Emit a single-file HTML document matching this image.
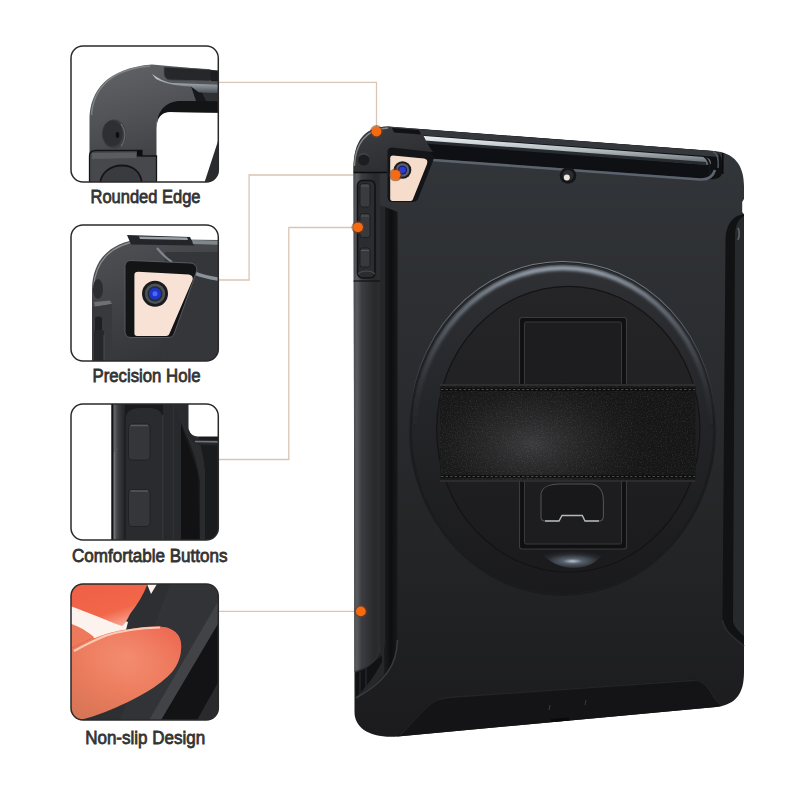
<!DOCTYPE html>
<html><head><meta charset="utf-8">
<style>
html,body{margin:0;padding:0;background:#fff;}
body{width:800px;height:800px;overflow:hidden;position:relative;}
svg{position:absolute;left:0;top:0;}
.lbl{font-family:"Liberation Sans",sans-serif;fill:#333;stroke:#333;stroke-width:0.8px;font-size:18.5px;}
</style></head><body>
<svg width="800" height="800" viewBox="0 0 800 800">
<defs>
  <clipPath id="b1"><rect x="71" y="46" width="147.3" height="136" rx="12"/></clipPath>
  <clipPath id="b2"><rect x="71" y="225" width="147.3" height="136" rx="12"/></clipPath>
  <clipPath id="b3"><rect x="71" y="404" width="147.3" height="136" rx="12"/></clipPath>
  <clipPath id="b4"><rect x="71" y="584" width="147.3" height="136" rx="12"/></clipPath>
  <linearGradient id="bump1" x1="0" y1="0" x2="0.3" y2="1">
    <stop offset="0" stop-color="#626468"/><stop offset="0.45" stop-color="#505256"/><stop offset="1" stop-color="#38393c"/>
  </linearGradient>
  <linearGradient id="silver" x1="0" y1="0" x2="0" y2="1">
    <stop offset="0" stop-color="#d0d6da"/><stop offset="0.5" stop-color="#9aa3a8"/><stop offset="1" stop-color="#4b5257"/>
  </linearGradient>
  <radialGradient id="thumb" cx="0.55" cy="0.3" r="0.75">
    <stop offset="0" stop-color="#f48e72"/><stop offset="0.5" stop-color="#ee7e60"/><stop offset="1" stop-color="#de6e50"/>
  </radialGradient>
  <linearGradient id="finger" x1="0" y1="0" x2="0.6" y2="1">
    <stop offset="0" stop-color="#ef5f45"/><stop offset="0.75" stop-color="#f2664a"/><stop offset="1" stop-color="#f6a08a"/>
  </linearGradient>
  <linearGradient id="panelg" x1="0" y1="0" x2="0" y2="1">
    <stop offset="0" stop-color="#33363a"/><stop offset="0.4" stop-color="#2a2c2f"/><stop offset="0.75" stop-color="#222325"/><stop offset="1" stop-color="#1b1b1d"/>
  </linearGradient>
  <linearGradient id="lstrip" x1="0" y1="0" x2="1" y2="0">
    <stop offset="0" stop-color="#4a4b4e"/><stop offset="0.12" stop-color="#5a5b5e"/><stop offset="0.3" stop-color="#3c3d40"/><stop offset="0.8" stop-color="#28292b"/><stop offset="1" stop-color="#2c2d2f"/>
  </linearGradient>
  <linearGradient id="silver2" x1="0" y1="0" x2="0" y2="1">
    <stop offset="0" stop-color="#eef3f5"/><stop offset="0.5" stop-color="#b4bcc0"/><stop offset="1" stop-color="#586065"/>
  </linearGradient>
  <linearGradient id="ringg" x1="0" y1="0" x2="0" y2="1">
    <stop offset="0" stop-color="#2f3135"/><stop offset="0.45" stop-color="#242528"/><stop offset="1" stop-color="#1a1a1c"/>
  </linearGradient>
  <linearGradient id="ringhl" x1="0" y1="0" x2="0" y2="1">
    <stop offset="0" stop-color="#9aa4b0"/><stop offset="0.12" stop-color="#6a727c"/><stop offset="0.3" stop-color="#3c3f44"/><stop offset="0.5" stop-color="#2a2b2e" stop-opacity="0"/><stop offset="1" stop-color="#222325" stop-opacity="0"/>
  </linearGradient>
  <linearGradient id="discg" x1="0" y1="0" x2="0" y2="1">
    <stop offset="0" stop-color="#252527"/><stop offset="1" stop-color="#1b1b1d"/>
  </linearGradient>
  <radialGradient id="hdisc" cx="0.5" cy="0.6" r="0.6">
    <stop offset="0" stop-color="#b8c4d4"/><stop offset="0.25" stop-color="#56606c"/><stop offset="0.7" stop-color="#26282c"/><stop offset="1" stop-color="#1a1b1e"/>
  </radialGradient>
  <radialGradient id="strapg" cx="0.36" cy="0.62" r="0.5" gradientTransform="translate(0.36,0.62) scale(1,1.6) translate(-0.36,-0.62)">
    <stop offset="0" stop-color="#3c3c3e" stop-opacity="0.95"/><stop offset="0.5" stop-color="#2a2a2b" stop-opacity="0.55"/><stop offset="1" stop-color="#161617" stop-opacity="0"/>
  </radialGradient>
  <linearGradient id="chang" x1="0" y1="0" x2="1" y2="0">
    <stop offset="0" stop-color="#1c1d1f"/><stop offset="0.5" stop-color="#0d0e10"/><stop offset="1" stop-color="#18191b"/>
  </linearGradient>
  <linearGradient id="cornerg" x1="0" y1="0" x2="0.6" y2="1">
    <stop offset="0" stop-color="#3c3e42"/><stop offset="1" stop-color="#2a2c2f"/>
  </linearGradient>
  <filter id="blur2" x="-10%" y="-10%" width="120%" height="120%"><feGaussianBlur stdDeviation="1.5"/></filter>
  <linearGradient id="b3strip" x1="0" y1="0" x2="1" y2="0">
    <stop offset="0" stop-color="#6a6c70"/><stop offset="0.4" stop-color="#3c3d40"/><stop offset="1" stop-color="#222326"/>
  </linearGradient>
  <linearGradient id="ringhl2" x1="0" y1="0" x2="0" y2="1">
    <stop offset="0" stop-color="#60656c"/><stop offset="0.4" stop-color="#3e4045"/><stop offset="0.8" stop-color="#2a2b2e"/><stop offset="1" stop-color="#202123"/>
  </linearGradient>
  <linearGradient id="ringhl3" x1="0" y1="0" x2="0" y2="1">
    <stop offset="0" stop-color="#7a8088"/><stop offset="0.25" stop-color="#4a4e54"/><stop offset="0.6" stop-color="#2a2b2e" stop-opacity="0"/><stop offset="1" stop-color="#2a2b2e" stop-opacity="0"/>
  </linearGradient>
  <filter id="leather" x="0" y="0" width="100%" height="100%">
    <feTurbulence type="fractalNoise" baseFrequency="0.8" numOctaves="2" seed="7" result="n"/>
    <feColorMatrix in="n" type="matrix" values="0 0 0 0 0.55  0 0 0 0 0.55  0 0 0 0 0.56  0 0 0 1.6 -0.75" result="m"/>
    <feComposite in="m" in2="SourceGraphic" operator="in"/>
  </filter>
  <linearGradient id="bump2" x1="0" y1="0" x2="0.4" y2="1">
    <stop offset="0" stop-color="#505256"/><stop offset="0.5" stop-color="#404245"/><stop offset="1" stop-color="#333437"/>
  </linearGradient>
  <linearGradient id="thumb2" x1="0.8" y1="0" x2="0.1" y2="1">
    <stop offset="0" stop-color="#f0584a" stop-opacity="0.45"/><stop offset="0.45" stop-color="#ee8060" stop-opacity="0"/><stop offset="1" stop-color="#c8805e" stop-opacity="0.5"/>
  </linearGradient>
</defs>
<rect width="800" height="800" fill="#fff"/>

<!-- callout lines -->
<g stroke="#d9c5b5" stroke-width="1.3" fill="none">
  <polyline points="219,82.4 376.5,82.4 376.5,131"/>
  <polyline points="219,280 249.1,280 249.1,175 395,175"/>
  <polyline points="219,459.5 288.8,459.5 288.8,227.5 358,227.5"/>
  <polyline points="219,611.3 361,611.3"/>
</g>

<!-- TABLET -->
<g id="tablet">
  <!-- silhouette base -->
  <path id="sil" d="M353.5,168 C353.5,142 364,126.5 388,126.5 L714,151 C734,152.5 744,165 744,186 L744,672 C744,694 736,704.5 716,707 L398,736.5 C370,738.5 354.5,728 354.5,712 Z" fill="url(#panelg)"/>
  <!-- left bumper strip -->
  <path d="M353.6,172 L380,172 L380,645 C380,660 368,668 354.5,672 Z" fill="url(#lstrip)"/>
  
  <!-- black channel -->
  <path d="M380,205 L397.5,212 L397.5,640 C397.5,660 385,680 356,698 L356,690 C372,680 380,665 380,650 Z" fill="#26272a"/>
  <path d="M385,207 L397.5,212 L397.5,640 C397.5,655 392,668 384,676 L384,650 C385,645 385,640 385,635 Z" fill="url(#chang)"/>
  <!-- gap at bottom left -->
  <path d="M355.5,672 C366,668 378,660 382,655 L382,662 C375,675 366,688 356,697 Z" fill="#111214"/>
  <path d="M360,672 L360,694 M366,668 L366,690" stroke="#2a2b2e" stroke-width="1.2"/>
  <!-- panel flare edge highlight -->
  <path d="M397.5,640 C397,665 385,682 356,698" stroke="#3a3b3e" stroke-width="1.5" fill="none"/>
  <path d="M380,646 C379,660 368,668 355,672" stroke="#2f3033" stroke-width="1.5" fill="none"/>
  <!-- right channel + strip -->
  <path d="M737,216 C730,220 725.5,228 725.5,240 L722.5,620 C724,632 736,640 744,645 L744,214 Z" fill="#111214"/>
  <path d="M735,236 C735,226 738,219 744,216 L744,636 C740,633 735,628 733,622 Z" fill="#28292c"/>
  <path d="M738,228 C739.5,231 739.5,236 738,240" stroke="#5a5f66" stroke-width="1.8" fill="none"/>
  <path d="M744.5,198 L742.2,202 L742.2,212 L744.5,215 Z" fill="#fff"/>
  <path d="M722.5,620 C725,634 738,640 744,646" stroke="#2b2c2f" stroke-width="1.5" fill="none"/>
  <!-- bottom lip -->
  <path d="M397,736.5 C410,726 420,708 435,700.5 C442,697.5 448,697.5 455,697 L690,680 C700,679 705,683 710,690 C713,695 716,701 722,706 L716,707 Z" fill="#141416"/>
  <path d="M400,735 C412,724 422,708 436,700.5 C442,698 448,697.5 455,697 L692,680.5 C702,680 706,684 710,691 C713,696 716,701 721,705" stroke="#232426" stroke-width="1.3" fill="none"/>
  <path d="M551,720.5 L569,719" stroke="#0a0a0a" stroke-width="3"/>
  <path d="M549,710 L550,705 M585,705 L586,700" stroke="#3a3b3e" stroke-width="1"/>
  <!-- top band: black gap -->
  <path d="M418,129 L712,151 C719,151.5 722,156 722,163 L722,172 C722,178 716,180 708,179 L433,159 L425,140 Z" fill="#0f1013"/>
  <!-- dark gray band above silver -->
  <path d="M418,129 L712,151 C717,151.5 719,154 719,157 L418,135 Z" fill="#34373b"/>
  <!-- silver strip -->
  <path d="M418,135.5 L704,157 C709,157.5 711,160 711,164 L709,165 L418,141 Z" fill="url(#silver2)"/>
  <path d="M418,141.5 L706,163.5" stroke="#262b2f" stroke-width="3"/>
  <path d="M704,156.5 C710,160 711,170 709,177" stroke="#14161a" stroke-width="2" fill="none"/>
  <!-- panel top edge highlight -->
  <path d="M433,160 L700,179.5 C708,180 713,176.5 715,170" stroke="#5a636e" stroke-width="2.6" fill="none"/>
  <!-- top right corner gap -->
  <path d="M722.8,153 L722.8,174" stroke="#0a0a0a" stroke-width="1.5"/>
  <path d="M713,151.5 C717,153 719,158 718,168" stroke="#50555b" stroke-width="1.5" fill="none"/>
  <!-- top left bumper corner -->
  <path d="M353.5,172 C353.5,142 364,126.5 388,126.5 L420,129 C424,136 428,146 433,152 L392,147.5 C389,147.5 387.5,149 387.5,152 L387.5,172 Z" fill="url(#cornerg)"/>
  <path d="M354.5,166 C355,145 365,129 388,128" stroke="#a0a5aa" stroke-width="1.3" fill="none" opacity="0.75"/>
  <path d="M392,128 L419,130 L421,134.5 L394,132.5 Z" fill="#111215"/>
  <path d="M353.6,172.5 L387,172.5" stroke="#0d0d0f" stroke-width="1.5"/>
  <circle cx="363.8" cy="160" r="5.6" fill="#1c1d20"/>
  <path d="M359,156 C361,153 366,153 368.5,156" stroke="#4a4d52" stroke-width="1" fill="none"/>
  <!-- camera cutout -->
  <path d="M392,147.5 L428,151.5 C433,152 435,156 433,161 L418,199 C417,201 415,202 412,202 L392,202 C389,202 387.5,200 387.5,197 L387.5,152 C387.5,149 389,147.5 392,147.5 Z" fill="#141518"/>
  <path d="M393,155.5 L424,158.5 C427,159 428,161 427,164 L413,199 C412.5,200.5 411.5,201 410,201 L392.5,201 C391,201 390.2,200 390.2,198.5 L390.2,158 C390.2,156.5 391.2,155.5 393,155.5 Z" fill="#f5dccb"/>
  <circle cx="402.5" cy="170" r="8.8" fill="#1b1c20"/>
  <circle cx="402.5" cy="170" r="6.8" fill="#5a5e6e"/>
  <circle cx="402.5" cy="170" r="4.6" fill="#1a2060"/>
  <circle cx="402.5" cy="170" r="3.3" fill="#2a3ad8"/>
  <!-- mic hole -->
  <circle cx="568" cy="175.5" r="8.3" fill="#141518"/>
  <circle cx="568" cy="175.5" r="5.5" fill="#2a2c30"/>
  <circle cx="566.8" cy="177.5" r="3" fill="#ece6de"/>
  <!-- button housing -->
  <rect x="357.5" y="180.5" width="17.5" height="97.5" rx="5" fill="#2b2c2f" stroke="#111214" stroke-width="1.6"/>
  <rect x="360" y="183.5" width="10" height="23.5" rx="2.5" fill="#3a3b3f" stroke="#1a1b1d" stroke-width="0.8"/>
  <rect x="360" y="213.5" width="10" height="24" rx="2.5" fill="#38393d" stroke="#1a1b1d" stroke-width="0.8"/>
  <rect x="360" y="248" width="10" height="19" rx="2.5" fill="#38393d" stroke="#1a1b1d" stroke-width="0.8"/>
  <path d="M361,186 L369,186 M361,216 L369,216 M361,250.5 L369,250.5" stroke="#56585d" stroke-width="1.2"/>
  <path d="M358,274 C362,270 371,270 375,274" stroke="#4a4b4f" stroke-width="1.2" fill="none"/>
  <path d="M353.6,281 L380,281" stroke="#111214" stroke-width="1.2"/>
  <!-- ring -->
  <ellipse cx="562.5" cy="428.5" rx="153.75" ry="167.5" fill="#1b1c1e"/>
  <ellipse cx="562.5" cy="428.5" rx="153.2" ry="167" fill="none" stroke="url(#ringhl3)" stroke-width="1.2"/>
  <ellipse cx="562.5" cy="428.5" rx="151.8" ry="165.6" fill="url(#ringg)"/>
  <ellipse cx="562.5" cy="429" rx="151.3" ry="165" fill="none" stroke="#1c1d20" stroke-width="1.2"/>
  <ellipse cx="563" cy="429.5" rx="148.3" ry="161.6" fill="none" stroke="url(#ringhl)" stroke-width="4.5" filter="url(#blur2)"/>
  <ellipse cx="568.3" cy="429.25" rx="132.2" ry="143.5" fill="#131315"/>
  <ellipse cx="568.3" cy="429.25" rx="131" ry="142.3" fill="url(#discg)"/>
  <!-- kickstand -->
  <rect x="519.5" y="317.5" width="107" height="231.5" rx="2.5" fill="#101012" stroke="#3a3b3e" stroke-width="1.1"/>
  <rect x="524.5" y="322" width="97" height="222" rx="1.5" fill="#1d1d1f" stroke="#38393c" stroke-width="1"/>
  <path d="M541,506 L541,495 C541,488 548,484 560,484 L590,484 C598,484 603.4,490 603.4,500 L603.4,516 C603.4,519 602,521 599,521 L585,521 L582.3,515.5 L562,515.5 L559,521 L545,521 C542.5,521 541,519.5 541,517 Z" fill="#18181a" stroke="#4e5156" stroke-width="1.1"/>
  <path d="M545,521 L559,521 L562,515.5 L582.3,515.5 L585,521 L599,521" fill="none" stroke="#b4b9c0" stroke-width="1.3"/>
  <!-- half disc below kickstand -->
  <path d="M540,551 C548,562 560,568 574,568 C588,568 598,562 605,551 Z" fill="url(#hdisc)"/>
  <!-- strap -->
  <path d="M440,384.5 C520,383.5 620,383.5 695.5,384.5 L695.5,481 C620,480 520,480 440,481 Z" fill="#161617"/>
  <path d="M440,384.5 C520,383.5 620,383.5 695.5,384.5 L695.5,481 C620,480 520,480 440,481 Z" fill="url(#strapg)"/>
  <path d="M440,384.5 C520,383.5 620,383.5 695.5,384.5 L695.5,481 C620,480 520,480 440,481 Z" fill="#888" filter="url(#leather)" opacity="0.2"/>
  <path d="M441,389.5 L695,389.5" stroke="#0c0c0d" stroke-width="2.6"/>
  <path d="M441,389.5 L695,389.5" stroke="#4a4a4c" stroke-width="1.2" stroke-dasharray="2.5,2"/>
  <path d="M441,476.5 L695,476.5" stroke="#0c0c0d" stroke-width="2.6"/>
  <path d="M441,476.5 L695,476.5" stroke="#4a4a4c" stroke-width="1.2" stroke-dasharray="2.5,2"/>
  <path d="M440,385 L695.5,385" stroke="#363638" stroke-width="1.3"/>
  <path d="M440,481 L695.5,481" stroke="#323234" stroke-width="1.3"/>
</g>

<!-- dots -->
<g fill="#7a3a18" opacity="0.55">
  <circle cx="376.5" cy="131.5" r="6.5"/>
  <circle cx="395.6" cy="174.8" r="6.5"/>
  <circle cx="358" cy="227.3" r="6.5"/>
  <circle cx="360.8" cy="611.4" r="6.5"/>
</g>
<g fill="#f66a12">
  <circle cx="376.5" cy="131.5" r="4.9"/>
  <circle cx="395.6" cy="174.8" r="4.9"/>
  <circle cx="358" cy="227.3" r="4.9"/>
  <circle cx="360.8" cy="611.4" r="4.9"/>
</g>

<!-- BOX 1: Rounded Edge -->
<g clip-path="url(#b1)">
  <rect x="71" y="46" width="148" height="136" fill="#fff"/>
  <!-- bumper -->
  <path d="M89.5,190 L89.5,120 C89.5,90 108,68 152,64.5 L225,71 L225,113 L168,112 C161,112 156.5,117 156.5,125 L156.5,190 Z" fill="url(#bump1)"/>
  <path d="M91.5,115 C93,88 112,69 150,66" stroke="#9a9ca0" stroke-width="1.6" fill="none" opacity="0.6"/>
  <!-- black inner rim -->
  <path d="M156.5,128 C156.5,115 162,103 178,101 L225,101 L225,112.5 L170,112 C162,112 157,117 156.5,128 Z" fill="#131416"/>
  <!-- dark gray band -->
  <path d="M198,92 L225,93 L225,101.5 L204,101 Z" fill="#2e3034"/>
  <path d="M191,86 L199,86.5 L206,101 L196,101 Z" fill="#17181b"/>
  <!-- silver band -->
  <path d="M152,74 C158,78 164,82 172,83 L225,85 L225,93 L199,92.5 L191,86.5 C178,86 166,84 156,79 Z" fill="url(#silver)"/>
  <!-- black top button -->
  <path d="M164,67 L208,69.5 C211,69.7 212,71 212,73 L212,78 C212,80 211,81 208,81 L170,80 C167,80 165,78 164,75 Z" fill="#26272a" stroke="#4a4c50" stroke-width="0.8"/>
  <path d="M210,70 L225,71.5 L225,82 L211,81 Z" fill="#1c1d20"/>
  <!-- hole -->
  <ellipse cx="114" cy="134" rx="12" ry="14.5" fill="#3c3d40"/>
  <ellipse cx="112.5" cy="133.5" rx="10" ry="13" fill="#2e2f32"/>
  <path d="M121,124 C126,130 126,140 121,146" stroke="#66686c" stroke-width="1.2" fill="none"/>
  <ellipse cx="117.5" cy="135" rx="1.8" ry="3" fill="#0e0e10"/>
  <!-- lower part -->
  <path d="M89.5,190 L89.5,156 C89.5,152.5 92,150.5 96,150.5 L142,150.5 L142,156 L156.5,156 L156.5,190 Z" fill="#47484b" stroke="#141416" stroke-width="1.3"/>
  <path d="M92,153 L136,152.5 L136,158 L92,159 Z" fill="#5a5c60"/>
  <rect x="137" y="150.5" width="5" height="6" fill="#0d0d0f"/>
  <path d="M100,186 C100,173 110,165.5 122,165.5 C134,165.5 142,173 142,186 Z" fill="#3a3b3e" stroke="#151517" stroke-width="1.8"/>
  <!-- diagonal strip right -->
  <path d="M202,190 L219,138 L225,138 L225,190 Z" fill="#2a2b2e"/>
</g>

<!-- BOX 2: Precision Hole -->
<g clip-path="url(#b2)">
  <rect x="71" y="225" width="148" height="136" fill="#fff"/>
  <path d="M92,370 L92,290 C92,262 108,242 142,239 L225,240 L225,370 Z" fill="url(#bump2)"/>
  <path d="M93.5,288 C95,262 110,244 142,240.5" stroke="#b4b8bc" stroke-width="1.3" fill="none" opacity="0.6"/>
  <!-- top bar -->
  <path d="M127,235 L190,237 L194,245.5 L131,244.5 Z" fill="#242528"/>
  <path d="M139,236.5 L187,237.5 L188,240 L140,239 Z" fill="#9aa1a6"/>
  <path d="M192,240 L225,241 L225,245 L193,244 Z" fill="#80878c"/>
  <!-- main panel right -->
  <path d="M165,252 L225,252 L225,370 L160,370 Z" fill="#343639"/>
  <path d="M157,248 C162,254 167,259 172,262" stroke="#7c8590" stroke-width="2.2" fill="none"/>
  <path d="M195,273 C200,276 210,278 225,280" stroke="#8a929a" stroke-width="3.5" fill="none"/>
  <!-- cutout frame -->
  <path d="M131,260.5 L190,263 C196,263.5 198,268 196,273 L174,334 C173,336.5 171,337.5 168,337.5 L131,337.5 C127.5,337.5 125,335 125,331.5 L125,266.5 C125,263 127.5,260.5 131,260.5 Z" fill="#131416" stroke="#5a5d62" stroke-width="0.9"/>
  <path d="M138,271.8 L188.5,274.5 C192,275 193.5,277.5 192.5,280 L169.5,333.5 C169,335 168,336 166,336 L137,336 C135.5,336 134.4,335 134.4,333.5 L134.4,275 C134.4,273 135.8,271.8 138,271.8 Z" fill="#f7e2d5"/>
  <!-- lens -->
  <circle cx="155" cy="293.8" r="13" fill="#1a1b1f"/>
  <circle cx="155" cy="293.8" r="10.2" fill="#4d5352"/>
  <circle cx="155" cy="293.8" r="7.6" fill="#262a3a"/>
  <circle cx="155" cy="293.8" r="6" fill="#1e36c8"/>
  <circle cx="155" cy="293.8" r="2.5" fill="#4a6aff"/>
  <!-- left bottom details -->
  <ellipse cx="98" cy="289" rx="5" ry="10" fill="#2c2d30"/>
  <path d="M94,302 L110,300.5 L112,304 L95,307 Z" fill="#6e7074"/>
  <path d="M92,307 L112,304 L112,370 L92,370 Z" fill="#38393d"/>
  <path d="M95,318 C97,316 100,316 102,318 L102,335 L95,335 Z" fill="#1e1f22"/>
  <rect x="94" y="330" width="10" height="34" rx="2" fill="#26272a"/>
  <path d="M104,335 L104,364" stroke="#4a4c50" stroke-width="1"/>
</g>

<!-- BOX 3: Comfortable Buttons -->
<g clip-path="url(#b3)">
  <rect x="71" y="404" width="148" height="136" fill="#fff"/>
  <rect x="111.5" y="400" width="110" height="150" fill="#1a1b1d"/>
  <!-- left bumper side strip -->
  <rect x="111.5" y="400" width="2" height="150" fill="#141416"/>
  <rect x="113.5" y="400" width="11.5" height="150" fill="url(#b3strip)"/>
  <path d="M114.5,452 L114.5,545" stroke="#707378" stroke-width="1.2"/>
  <path d="M114.5,452 L117,448.5" stroke="#5a5c60" stroke-width="1"/>
  <!-- right strip -->
  <rect x="163" y="400" width="18" height="150" fill="#28292c"/>
  <path d="M173.5,400 L173.5,545" stroke="#303134" stroke-width="1.5"/>
  <!-- curved gray band -->
  <path d="M172,400 L188,400 C195,425 203,448 205,470 L205,545 L200,545 L200,482 C198,464 192,447 185,432 C180,420 176,410 172,400 Z" fill="#2a2b2e"/>
  <path d="M181,425 C186,440 194,458 198,476 L199.5,545 L181,545 Z" fill="#121214"/>
  <!-- top-right white -->
  <path d="M188.5,398 L225,398 L225,436.5 L198,436.5 C192.5,436.5 188.5,432.5 188.5,427 Z" fill="#fff"/>
  <path d="M189,430 C190,436 195,439 201,439.5 L225,440 L225,445.5 L200,445 C194,444 190,440 188,434 Z" fill="#24262a"/>
  <path d="M195,441.5 L225,442" stroke="#6e747c" stroke-width="1.6"/>
  <!-- button housing -->
  <path d="M125,545 L125,420 C125,411 132,407.5 140,407.5 L149,407.5 C157,407.5 163.5,411 163.5,420 L163.5,545 Z" fill="#2a2b2e" stroke="#1a1b1d" stroke-width="1.2"/>
  <path d="M163,415 L163,545" stroke="#3c3d41" stroke-width="1.3"/>
  <rect x="128.5" y="424" width="21.5" height="36" rx="3.5" fill="#353639" stroke="#1e1f21" stroke-width="0.8"/>
  <path d="M130.5,425.5 L148,425.5" stroke="#55575b" stroke-width="1.5"/>
  <rect x="128.5" y="489.5" width="21.5" height="37" rx="3.5" fill="#353639" stroke="#1e1f21" stroke-width="0.8"/>
  <path d="M130.5,491 L148,491" stroke="#55575b" stroke-width="1.5"/>
</g>

<!-- BOX 4: Non-slip -->
<g clip-path="url(#b4)">
  <rect x="71" y="584" width="148" height="136" fill="#2e2f32"/>
  <!-- case bands -->
  <path d="M170,584 L225,584 L225,600 L200,640 L160,720 L120,720 Z" fill="#323336"/>
  <path d="M219,600 L225,596 L225,612 L160,722 L148,722 Z" fill="#424347"/>
  <path d="M225,612 L225,722 L160,722 Z" fill="#131315"/>
  <path d="M225,670 L225,722 L196,722 Z" fill="#2a2a2d"/>
  <!-- white glare / background -->
  <path d="M65,600 L128,622 L126,630 L100,640 L65,628 Z" fill="#fdf3ee"/>
  <path d="M147,584 L157,584 L151,594 Z" fill="#fdf3ee"/>
  <path d="M65,628 L100,640 L80,648 L65,652 Z" fill="#e86a4e"/>
  <!-- upper finger -->
  <path d="M65,580 L149,580 C145,592 138,604 130,614 C127,620 125,624 122,626 C105,620 88,612 65,604 Z" fill="url(#finger)"/>
  <!-- lower-left finger -->
  <path d="M65,622 C75,624 86,630 94,637 C85,641 75,646 65,650 Z" fill="#ee7a5e"/>
  <!-- thumb -->
  <path d="M65,652 C80,645 88,640 94,638.5 C105,634 118,630 128,629.5 C140,627 155,626 163,627 C173,628 180,634 181,643 C182,653 179,664 172,672 C160,686 135,700 105,712 C90,718 78,721 65,722 Z" fill="url(#thumb)"/>
  <path d="M65,652 C80,645 88,640 94,638.5 C105,634 118,630 128,629.5 C140,627 155,626 163,627 C173,628 180,634 181,643 C182,653 179,664 172,672 C160,686 135,700 105,712 C90,718 78,721 65,722 Z" fill="url(#thumb2)"/>
  <path d="M74,651 C85,645 95,640 105,636 C120,631 140,628 160,627.5" stroke="#ffd8c4" stroke-width="2" fill="none" opacity="0.85"/>
</g>

<g fill="none" stroke="#2a2a2a" stroke-width="1.5">
  <rect x="71" y="46" width="147.3" height="136" rx="12"/>
  <rect x="71" y="225" width="147.3" height="136" rx="12"/>
  <rect x="71" y="404" width="147.3" height="136" rx="12"/>
  <rect x="71" y="584" width="147.3" height="136" rx="12"/>
</g>

<!-- labels -->
<text class="lbl" x="90.5" y="202.5" textLength="110" lengthAdjust="spacingAndGlyphs">Rounded Edge</text>
<text class="lbl" x="92.5" y="381.5" textLength="108" lengthAdjust="spacingAndGlyphs">Precision Hole</text>
<text class="lbl" x="72" y="561.8" textLength="155.5" lengthAdjust="spacingAndGlyphs">Comfortable Buttons</text>
<text class="lbl" x="85.2" y="743.8" textLength="120" lengthAdjust="spacingAndGlyphs">Non-slip Design</text>
</svg>
</body></html>
